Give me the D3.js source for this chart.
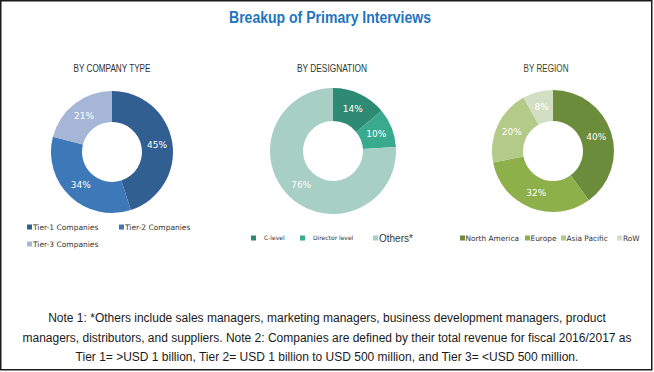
<!DOCTYPE html>
<html>
<head>
<meta charset="utf-8">
<script src="https://cdn.jsdelivr.net/npm/d3@7"></script>
<style>
  body { margin: 0; background: #fff; }
  svg { display: block; }
</style>
</head>
<body>
<div id="main"></div>
<script>
// data
var companyTypes = ["Tier-1 Companies", "Tier-2 Companies", "Tier-3 Companies"];
var companyShares = [45, 34, 21];
var companyColors = ["#325f92", "#3d78b8", "#a6b6d6"];

var designations = ["C-level", "Director level", "Others*"];
var designationShares = [14, 10, 76];
var designationColors = ["#2f8a73", "#3aaa8e", "#a8cfc3"];

var regions = ["North America", "Europe", "Asia Pacific", "RoW"];
var regionShares = [40, 32, 20, 8];
var regionColors = ["#6b8c3b", "#8db04b", "#b3ca88", "#d3dfc2"];

var noteLines = [
    "Note 1: *Others include sales managers, marketing managers, business development managers, product",
    "managers, distributors, and suppliers. Note 2: Companies are defined by their total revenue for fiscal 2016/2017 as",
    "Tier 1= >USD 1 billion, Tier 2= USD 1 billion to USD 500 million, and Tier 3= <USD 500 million."
];

var width = 654;
var height = 372;

var svg = d3.select("#main")
    .append("svg")
    .attr("width", width)
    .attr("height", height);

svg.append("rect")
    .attr("x", 0.75).attr("y", 0.75)
    .attr("width", width - 3).attr("height", height - 3)
    .attr("fill", "#fff")
    .attr("stroke", "#1a1a1a")
    .attr("stroke-width", 1.5);

// no narrow font installed, so squeeze the bold face to the reference width
svg.append("text")
    .attr("x", 330)
    .attr("y", 23)
    .attr("text-anchor", "middle")
    .attr("textLength", 202)
    .attr("lengthAdjust", "spacingAndGlyphs")
    .style("font-family", "'Liberation Sans', Arial, sans-serif")
    .style("font-weight", "bold")
    .style("font-size", "16px")
    .style("fill", "#1f74bf")
    .text("Breakup of Primary Interviews");

var small = "'DejaVu Sans', Verdana, sans-serif";

function donut(opts) {
    var g = svg.append("g");

    g.append("text")
        .attr("x", opts.titleX)
        .attr("y", 72)
        .attr("text-anchor", "middle")
        .attr("textLength", opts.titleW)
        .attr("lengthAdjust", "spacingAndGlyphs")
        .style("font-family", "'Liberation Sans', Arial, sans-serif")
        .style("font-size", "10.5px")
        .style("fill", opts.titleColor)
        .text(opts.title);

    var pie = d3.pie().sort(null).value(function(d) { return d; });
    var arc = d3.arc().innerRadius(30).outerRadius(opts.r);
    var arcs = pie(opts.values);

    var c = g.append("g")
        .attr("transform", "translate(" + opts.cx + "," + opts.cy + ")");

    c.selectAll("path")
        .data(arcs)
        .enter()
        .append("path")
        .attr("d", arc)
        .attr("fill", function(d, i) { return opts.colors[i]; });

    c.selectAll("text")
        .data(arcs)
        .enter()
        .append("text")
        .attr("transform", function(d) { return "translate(" + arc.centroid(d) + ")"; })
        .attr("text-anchor", "middle")
        .attr("dy", "0.35em")
        .style("font-family", small)
        .style("font-size", "9px")
        .style("fill", "#fff")
        .text(function(d) { return d.data + "%"; });

    var leg = g.selectAll(".leg")
        .data(opts.labels)
        .enter()
        .append("g")
        .attr("transform", function(d, i) {
            return "translate(" + opts.legend[i][0] + "," + opts.legend[i][1] + ")";
        });
    leg.append("rect")
        .attr("x", 0).attr("y", -2.5)
        .attr("width", 5).attr("height", 5)
        .attr("fill", function(d, i) { return opts.colors[i]; });
    leg.append("text")
        .attr("x", function(d, i) { return opts.legend[i][2]; })
        .attr("y", 0)
        .attr("dy", "0.35em")
        .style("font-family", function(d, i) { return opts.legend[i][4] || small; })
        .style("font-size", function(d, i) { return opts.legend[i][3] + "px"; })
        .style("fill", "#333")
        .text(function(d) { return d; });
}

donut({
    title: "BY COMPANY TYPE", titleX: 112, titleW: 77, titleColor: "#2a2f3a",
    cx: 112, cy: 152, r: 61,
    values: companyShares, colors: companyColors, labels: companyTypes,
    legend: [[27, 227, 6, 7.5], [119, 227, 6, 7.5], [27, 244, 6, 7.5]]
});

donut({
    title: "BY DESIGNATION", titleX: 332, titleW: 70, titleColor: "#243a33",
    cx: 333, cy: 151, r: 63,
    values: designationShares, colors: designationColors, labels: designations,
    legend: [[251, 238, 13, 6], [300, 238, 13, 6],
             [373, 238, 6, 10, "'Liberation Sans', Arial, sans-serif"]]
});

donut({
    title: "BY REGION", titleX: 546, titleW: 45, titleColor: "#3c4524",
    cx: 553, cy: 151, r: 61,
    values: regionShares, colors: regionColors, labels: regions,
    legend: [[460, 238, 5.5, 7.4], [525, 238, 5.5, 7.4], [561, 238, 5.5, 7.4], [617, 238, 6, 7.4]]
});

svg.selectAll(".note")
    .data(noteLines)
    .enter()
    .append("text")
    .attr("class", "note")
    .attr("x", 327)
    .attr("y", function(d, i) { return 322 + i * 19.5; })
    .attr("text-anchor", "middle")
    .style("font-family", "'Liberation Sans', Arial, sans-serif")
    .style("font-size", "12px")
    .style("fill", "#1a1a1a")
    .text(function(d) { return d; });
</script>
</body>
</html>
